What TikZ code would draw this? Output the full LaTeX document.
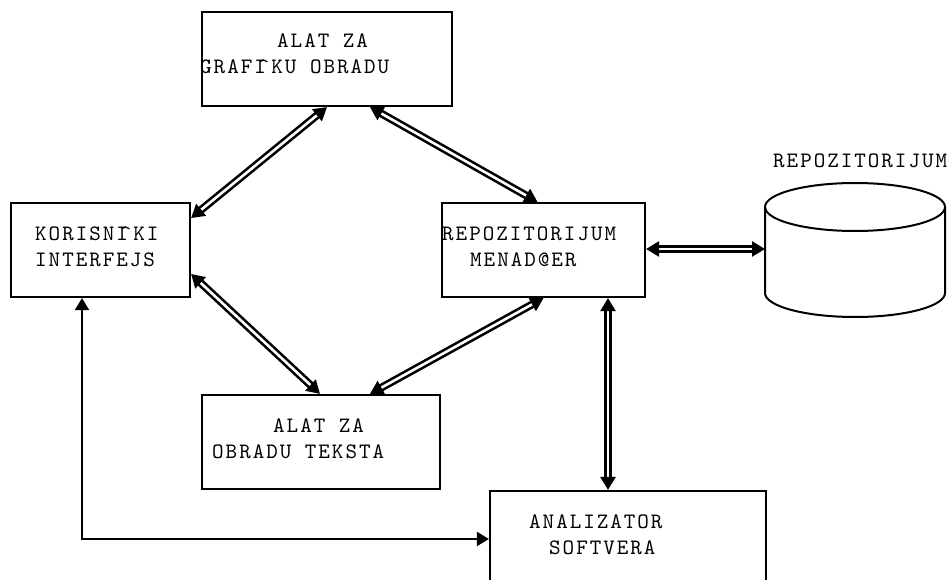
\documentclass[tikz,border=0pt]{standalone}
\usepackage{fontspec}
\newfontfamily\dfont{lmmono10-regular}[Extension=.otf, LetterSpace=9]
\usetikzlibrary{arrows.meta}
\begin{document}
\begin{tikzpicture}[x=1pt,y=-1pt,
  box/.style={draw, line width=2.2pt, inner sep=0pt},
  lbl/.style={inner sep=0pt, anchor=base west, font=\fontsize{22}{26}\dfont},
  dbl/.style={line width=2.6pt, double=white, double distance=2.6pt,
    {Triangle[length=13pt,width=15pt]}-{Triangle[length=13pt,width=15pt]}},
  sgl/.style={line width=2pt,
    {Triangle[length=12pt,width=14pt]}-{Triangle[length=12pt,width=14pt]}}]
\path[use as bounding box] (0,0) rectangle (951,580);
\clip (0,0) rectangle (951,580);
% boxes
\node[box, minimum width=250pt, minimum height=94pt] (top) at (327,59) {};
\node[box, minimum width=179pt, minimum height=94pt] (kor) at (100.5,250) {};
\node[box, minimum width=203pt, minimum height=94pt] (rm) at (543.5,250) {};
\node[box, minimum width=238pt, minimum height=94pt] (txt) at (321,442) {};
\node[box, minimum width=276pt, minimum height=110pt] (an) at (628,546) {};
% cylinder
\draw[line width=2pt] (765,207) -- (765,293) arc[start angle=180, end angle=0, x radius=90, y radius=24] -- (945,207);
\draw[line width=2pt] (855,207) ellipse [x radius=90, y radius=24];
\coordinate (cylw) at (765,249);
% texts
\node[lbl] (t1) at (277,48) {ALAT ZA};
\node[lbl] (t2) at (200,74) {GRAFI\kern-8pt\^{}KU OBRADU};
\node[lbl] (k1) at (35,240.7) {KORISNI\kern-8pt\^{}KI};
\node[lbl] (k2) at (35,266.7) {INTERFEJS};
\node[lbl] (r1) at (442,240.7) {REPOZITORIJUM};
\node[lbl] (r2) at (470,266.7) {MENAD@ER};
\node[lbl] (c1) at (773,168) {REPOZITORIJUM};
\node[lbl] (b1) at (273,432.7) {ALAT ZA};
\node[lbl] (b2) at (212,458) {OBRADU TEKSTA};
\node[lbl] (a1) at (529,528) {ANALIZATOR};
\node[lbl] (a2) at (549,554) {SOFTVERA};
% connectors
\draw[dbl] (top.south) -- ([yshift=32pt]kor.east);
\draw[dbl] ([xshift=43pt]top.south) -- ([xshift=-6pt]rm.north);
\draw[dbl] ([yshift=-24pt]kor.east) -- ([xshift=-1pt]txt.north);
\draw[dbl] ([xshift=49pt]txt.north) -- (rm.south);
\coordinate (p5) at ([xshift=64.5pt]rm.south);
\draw[dbl] (p5) -- (p5 |- an.north);
\draw[dbl] (rm.east |- cylw) -- (cylw);
\coordinate (c7) at (82,539);
\draw[sgl] (kor.south -| c7) -- (c7) -- (c7 -| an.west);
\end{tikzpicture}
\end{document}
